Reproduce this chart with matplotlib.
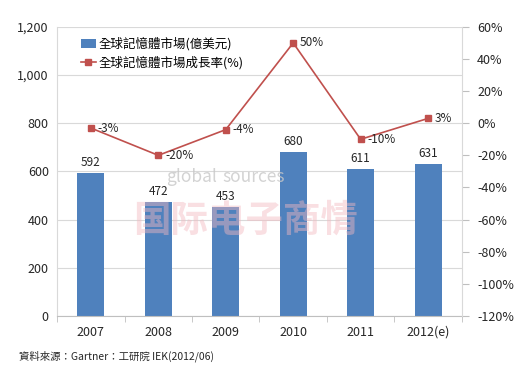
import numpy as np
import matplotlib.pyplot as plt

plt.rcParams['font.family'] = ['Noto Sans CJK TC', 'DejaVu Sans']

years = ['2007', '2008', '2009', '2010', '2011', '2012(e)']
market = [592, 472, 453, 680, 611, 631]
growth = [-3, -20, -4, 50, -10, 3]

bar_color = '#4F81BD'
line_color = '#C0504D'
grid_color = '#D9D9D9'
text_color = '#262626'

fig = plt.figure(figsize=(5.29, 3.73), dpi=100)
ax = fig.add_axes([0.108, 0.153, 0.765, 0.775])
ax2 = ax.twinx()

x = np.arange(len(years))
ax.bar(x, market, width=0.4, color=bar_color, zorder=2, label='全球記憶體市場(億美元)')
for xi, v in zip(x, market):
    ax.text(xi, v + 16, str(v), ha='center', va='bottom', fontsize=8.5, color=text_color)

ax.set_xlim(-0.5, len(years) - 0.5)
ax.set_ylim(0, 1200)
ax.set_yticks(range(0, 1201, 200))
ax.set_yticklabels([f'{v:,}' for v in range(0, 1201, 200)], fontsize=9, color=text_color)
ax.set_xticks(x)
ax.set_xticklabels(years, fontsize=9, color=text_color)
ax.tick_params(axis='x', length=0, pad=7)
ax.tick_params(axis='y', length=0, pad=6)
ax.set_xticks(np.arange(-0.5, len(years), 1), minor=True)
ax.tick_params(axis='x', which='minor', length=4, color='#BFBFBF')
ax.yaxis.grid(True, color=grid_color, linewidth=0.8, zorder=0)
ax.set_axisbelow(True)
ax.spines['top'].set_visible(False)
ax.spines['left'].set_color('#D9D9D9')
ax.spines['bottom'].set_color('#BFBFBF')
ax.spines['right'].set_visible(False)

ax2.plot(x, growth, color=line_color, marker='s', markersize=4, linewidth=1.2,
         label='全球記憶體市場成長率(%)', zorder=3)
for xi, v in zip(x, growth):
    ax2.text(xi + 0.1, v, f'{v}%', ha='left', va='center', fontsize=8.5, color=text_color)
ax2.set_ylim(-120, 60)
ax2.set_yticks(range(-120, 61, 20))
ax2.set_yticklabels([f'{v}%' for v in range(-120, 61, 20)], fontsize=9, color=text_color)
ax2.tick_params(axis='y', length=5, color='#BFBFBF', pad=6)
for s in ['top', 'left', 'bottom']:
    ax2.spines[s].set_visible(False)
ax2.spines['right'].set_color('#D9D9D9')

# watermark
fig.text(0.41, 0.525, 'global', fontsize=12.5, color='#C8C8C8', alpha=0.8, ha='right', va='center')
fig.text(0.42, 0.525, 'sources', fontsize=12.5, color='#C8C8C8', alpha=0.8, ha='left', va='center')
fig.text(0.465, 0.41, '国际电子商情', fontsize=27, color='#F2B8C0', alpha=0.45,
         ha='center', va='center', fontweight='bold')

h1, l1 = ax.get_legend_handles_labels()
h2, l2 = ax2.get_legend_handles_labels()
ax2.legend(h1 + h2, l1 + l2, loc='upper left', bbox_to_anchor=(0.04, 0.99),
           frameon=False, fontsize=9, handlelength=1.2, handletextpad=0.2,
           labelspacing=0.45, borderaxespad=0.2)

fig.text(0.035, 0.045, '資料來源：Gartner：工研院 IEK(2012/06)', fontsize=7.5,
         color=text_color, ha='left', va='center')

fig.savefig('out.png', dpi=100)
